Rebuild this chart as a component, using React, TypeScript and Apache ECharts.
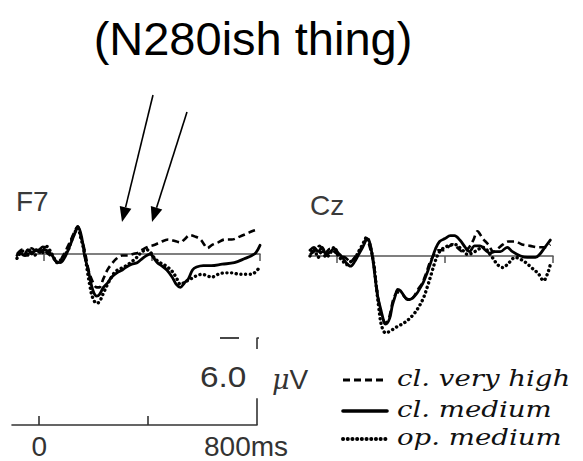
import React, { useEffect, useRef } from "react";
import * as echarts from "echarts";

type Pt = [number, number]; // [time in ms, amplitude in µV, negative up]

const TITLE = "(N280ish thing)";
const CONDITIONS = ["cl. very high", "cl. medium", "op. medium"];
const PANELS = ["F7", "Cz"];

// F7 waveforms
const F7_VERY_HIGH: Pt[] = [
  [-100, 0], [-80, -0.3], [-65, 0.1], [-45, -0.4], [-25, -0.1], [-5, -0.5], [10, -0.1], [30, 0.2],
  [50, 0.6], [65, 0.3], [85, -0.4], [105, -1.2], [120, -1.8], [125, -1.9], [135, -1.3], [150, -0.3],
  [165, 1.1], [180, 1.9], [195, 2.3], [205, 2.3], [220, 1.7], [235, 1.1], [250, 0.7], [270, 0.3],
  [290, 0.1], [310, 0.1], [330, 0], [350, -0.1], [365, -0.3], [385, -0.5], [405, -0.6], [430, -0.8],
  [460, -1.0], [485, -0.9], [505, -0.8], [520, -1.0], [540, -1.3], [560, -1.2], [580, -1.0], [595, -0.6],
  [605, -0.4], [620, -0.6], [645, -0.8], [670, -1.0], [695, -1.0], [725, -1.2], [750, -1.4], [775, -1.6],
  [795, -1.7],
];
const F7_MEDIUM: Pt[] = [
  [-100, 0.1], [-90, -0.1], [-75, 0.1], [-60, -0.3], [-45, 0], [-30, -0.3], [-15, -0.1], [0, -0.3],
  [15, -0.2], [30, 0.1], [45, 0.5], [60, 0.6], [75, 0.3], [90, -0.3], [105, -1.0], [120, -1.7],
  [125, -1.9], [135, -1.5], [145, -0.6], [150, 0.1], [165, 1.2], [175, 2.1], [185, 2.7], [195, 2.9],
  [205, 2.8], [220, 2.3], [235, 2.0], [250, 1.6], [270, 1.3], [290, 1.1], [305, 0.9], [325, 0.7],
  [345, 0.6], [365, 0.3], [380, 0.1], [395, 0], [400, 0.1], [420, 0.6], [435, 0.8], [455, 1.1],
  [475, 1.6], [490, 2.1], [505, 2.3], [520, 2.0], [535, 1.7], [550, 1.1], [565, 0.9], [590, 0.8],
  [620, 0.8], [660, 0.7], [705, 0.6], [745, 0.3], [770, 0.1], [785, -0.1], [800, -0.6],
];
const F7_OP_MEDIUM: Pt[] = [
  [-100, 0.3], [-80, -0.2], [-65, 0.2], [-50, -0.3], [-35, 0.1], [-20, -0.4], [-5, -0.1], [5, -0.6],
  [20, -0.3], [35, 0.2], [50, 0.6], [70, 0.2], [90, -0.3], [105, -1.1], [120, -1.7], [125, -1.8],
  [135, -1.2], [150, -0.1], [160, 1.1], [170, 2.2], [180, 3.0], [195, 3.4], [205, 3.3], [220, 2.7],
  [235, 2.1], [250, 1.6], [265, 1.2], [285, 1.0], [305, 0.8], [320, 0.6], [340, 0.3], [360, -0.1],
  [380, -0.3], [395, -0.1], [410, 0.3], [430, 0.6], [450, 0.8], [475, 1.2], [495, 1.8], [505, 2.1],
  [525, 1.9], [545, 1.7], [565, 1.5], [585, 1.4], [605, 1.5], [620, 1.6], [645, 1.4], [670, 1.3],
  [695, 1.3], [725, 1.4], [750, 1.4], [770, 1.4], [785, 1.2], [795, 1.0],
];

// Cz waveforms
const CZ_VERY_HIGH: Pt[] = [
  [-100, -0.1], [-80, -0.4], [-65, -0.7], [-45, -0.2], [-25, -0.5], [-10, -0.3], [10, 0], [30, 0.1],
  [50, 0.4], [65, 0.1], [85, -0.4], [100, -0.9], [110, -1.2], [120, -0.7], [135, 0.4], [145, 1.9],
  [155, 3.2], [165, 4.1], [180, 4.6], [190, 4.4], [200, 3.7], [210, 2.9], [225, 2.5], [240, 2.6],
  [255, 2.9], [270, 3.0], [285, 2.8], [300, 2.3], [315, 1.9], [330, 1.2], [345, 0.4], [360, -0.1],
  [375, -0.4], [395, -0.4], [410, -0.6], [430, -0.8], [450, -0.5], [465, -0.3], [485, -0.5], [505, -1.1],
  [520, -1.7], [540, -1.2], [560, -0.8], [580, -0.3], [595, -0.5], [615, -0.8], [635, -1.0], [660, -1.0],
  [685, -0.8], [715, -0.7], [745, -0.6], [770, -0.6], [790, -0.8],
];
const CZ_MEDIUM: Pt[] = [
  [-100, -0.4], [-85, -0.6], [-70, -0.3], [-55, -0.6], [-40, -0.1], [-25, -0.3], [-10, -0.5], [5, -0.2],
  [20, 0.1], [35, 0.5], [50, 0.7], [65, 0.4], [80, -0.1], [95, -0.6], [105, -1.0], [110, -1.2],
  [120, -1.0], [130, -0.1], [140, 1.3], [150, 2.7], [165, 3.9], [175, 4.6], [180, 4.7], [195, 4.3],
  [205, 3.4], [215, 2.8], [225, 2.3], [235, 2.4], [250, 2.8], [260, 3.0], [270, 3.0], [280, 2.9],
  [295, 2.6], [305, 2.3], [320, 1.8], [335, 1.1], [350, 0.3], [365, -0.5], [380, -1.0], [400, -1.2],
  [420, -1.4], [435, -1.4], [455, -1.1], [475, -0.6], [490, -0.3], [510, -0.7], [530, -0.7], [550, -0.4],
  [565, -0.2], [585, -0.3], [605, -0.3], [630, -0.6], [650, -0.3], [680, 0], [705, 0.1], [735, 0.1],
  [750, -0.1], [770, -0.6], [790, -1.1],
];
const CZ_OP_MEDIUM: Pt[] = [
  [-100, 0], [-85, -0.5], [-70, 0.1], [-55, -0.4], [-40, 0.1], [-25, -0.2], [-10, -0.6], [5, 0],
  [20, 0.3], [35, 0.6], [50, 0.4], [65, 0.2], [80, -0.3], [95, -0.8], [105, -1.2], [110, -1.3],
  [120, -0.9], [135, 0.4], [145, 2.0], [155, 3.6], [165, 4.8], [180, 5.3], [195, 5.2], [220, 4.9],
  [250, 4.6], [280, 4.1], [300, 3.6], [320, 2.9], [335, 2.1], [350, 1.2], [365, 0.3], [380, -0.3],
  [400, -0.6], [435, -0.8], [465, -0.4], [485, -0.1], [510, -0.3], [540, -0.6], [575, 0.1], [595, 0.6],
  [615, 0.8], [635, 0.5], [660, 0.1], [695, 0.4], [720, 0.8], [745, 1.2], [765, 1.7], [780, 1.2],
  [790, 0.6],
];

const PANEL_DATA: Pt[][][] = [
  [F7_VERY_HIGH, F7_MEDIUM, F7_OP_MEDIUM],
  [CZ_VERY_HIGH, CZ_MEDIUM, CZ_OP_MEDIUM],
];

// Calibration: time axis and amplitude bar
const EPOCH = [-100, 800];
const PANEL_TICKS = [0, 400, 800];
const SCALE_TICKS = [0, 400];
const SCALE_LABELS = [0, 800];
const SCALE_UV = 6.0;
const BAR_LOWER: Pt[] = [[800, 0], [800, -1.85]];
const BAR_UPPER: Pt[] = [[800, -5.25], [800, -6], [837, -6]];

const SANS = "'Liberation Sans', Arial, Helvetica, sans-serif";
const SERIF = "'DejaVu Serif', serif";
const INK = "#000";
const GREY = "#333";

const LINE_STYLES = [
  { type: [7, 4], width: 2.6, cap: "butt" },
  { type: "solid", width: 2.8, cap: "round" },
  { type: [0.1, 4.6], width: 3.4, cap: "round" },
];

// legend block: swatch x-range and row centres
const LEGEND_X = 343;
const LEGEND_W = 44;
const LEGEND_ROWS = [380, 411, 439];

function arrow(x1: number, y1: number, x2: number, y2: number) {
  const dx = x2 - x1;
  const dy = y2 - y1;
  const len = Math.hypot(dx, dy);
  const ux = dx / len;
  const uy = dy / len;
  const head = 15;
  const half = 6;
  const bx = x2 - ux * head;
  const by = y2 - uy * head;
  return [
    {
      type: "line",
      shape: { x1, y1, x2: bx, y2: by },
      style: { stroke: INK, lineWidth: 1.6 },
    },
    {
      type: "polygon",
      shape: {
        points: [
          [x2, y2],
          [bx - uy * half, by + ux * half],
          [bx + uy * half, by - ux * half],
        ],
      },
      style: { fill: INK },
    },
  ];
}

function legendItems() {
  const out: any[] = [];
  CONDITIONS.forEach((name, i) => {
    const ls = LINE_STYLES[i];
    out.push({
      type: "line",
      shape: { x1: LEGEND_X, y1: LEGEND_ROWS[i], x2: LEGEND_X + LEGEND_W, y2: LEGEND_ROWS[i] },
      style: {
        stroke: INK,
        lineWidth: i === 1 ? 3.6 : ls.width + 0.6,
        lineDash: Array.isArray(ls.type) ? ls.type : null,
        lineCap: ls.cap,
      },
    });
    out.push({
      type: "text",
      x: LEGEND_X + LEGEND_W + 10,
      y: LEGEND_ROWS[i] - 2,
      scaleX: 1.2,
      style: {
        text: name,
        fill: "#111",
        fontFamily: SERIF,
        fontStyle: "italic",
        fontSize: 23,
        align: "left",
        verticalAlign: "middle",
      },
    });
  });
  return out;
}

export default function App() {
  const ref = useRef<HTMLDivElement>(null);

  useEffect(() => {
    if (!ref.current) return;
    const chart = echarts.init(ref.current, null, { renderer: "svg" });

    const panelGrids = [
      { left: 17, top: 181.5, width: 243, height: 145 },
      { left: 310, top: 183.5, width: 243, height: 145 },
    ];

    const panelX = panelGrids.map((_, i) => ({
      type: "value",
      gridIndex: i,
      min: EPOCH[0],
      max: EPOCH[1],
      axisLine: { onZero: true, lineStyle: { color: "#555", width: 1.5 } },
      axisTick: { show: true, customValues: PANEL_TICKS, length: 7, lineStyle: { color: "#555", width: 1.5 } },
      axisLabel: { show: false },
      splitLine: { show: false },
    }));
    const panelY = panelGrids.map((_, i) => ({
      type: "value",
      gridIndex: i,
      min: -5,
      max: 5,
      inverse: true,
      show: false,
      splitLine: { show: false },
    }));

    const waveSeries: any[] = [];
    PANEL_DATA.forEach((traces, p) => {
      traces.forEach((data, c) => {
        waveSeries.push({
          type: "line",
          name: CONDITIONS[c],
          xAxisIndex: p,
          yAxisIndex: p,
          data,
          symbol: "none",
          smooth: 0.35,
          clip: false,
          z: 3 + c,
          lineStyle: { color: INK, ...LINE_STYLES[c] },
          itemStyle: { color: INK },
        });
      });
    });

    const barStyle = { color: GREY, width: 1.6 };

    chart.setOption({
      animation: false,
      backgroundColor: "#fff",
      grid: [...panelGrids, { left: 12, top: 338, width: 245, height: 87 }],
      xAxis: [
        ...panelX,
        {
          type: "value",
          gridIndex: 2,
          min: EPOCH[0],
          max: EPOCH[1],
          axisLine: { onZero: true, lineStyle: { color: GREY, width: 1.6 } },
          axisTick: { show: true, inside: true, customValues: SCALE_TICKS, length: 9, lineStyle: { color: GREY, width: 1.6 } },
          axisLabel: {
            show: true,
            customValues: SCALE_LABELS,
            margin: 7,
            color: GREY,
            fontFamily: SANS,
            fontSize: 28,
            formatter: (v: number) => (v === EPOCH[1] ? `{t|${v}ms}{pad|}` : `{t|${v}}`),
            rich: {
              t: { fontFamily: SANS, fontSize: 28, color: GREY },
              pad: { width: 22 },
            },
          },
          splitLine: { show: false },
        },
      ],
      yAxis: [
        ...panelY,
        { type: "value", gridIndex: 2, min: -SCALE_UV, max: 0, inverse: true, show: false, splitLine: { show: false } },
      ],
      series: [
        ...waveSeries,
        {
          type: "line",
          name: "bar-lower",
          xAxisIndex: 2,
          yAxisIndex: 2,
          data: BAR_LOWER,
          symbol: "none",
          clip: false,
          lineStyle: barStyle,
        },
        {
          type: "line",
          name: "bar-upper",
          xAxisIndex: 2,
          yAxisIndex: 2,
          data: BAR_UPPER,
          symbol: "none",
          clip: false,
          lineStyle: barStyle,
        },
      ],
      graphic: [
        {
          type: "text",
          x: 253,
          y: 38,
          style: { text: TITLE, fill: INK, fontFamily: SANS, fontSize: 47, align: "center", verticalAlign: "middle" },
        },
        {
          type: "text",
          x: 16,
          y: 201,
          style: { text: PANELS[0], fill: "#3a3a3a", fontFamily: SANS, fontSize: 28, align: "left", verticalAlign: "middle" },
        },
        {
          type: "text",
          x: 310,
          y: 205,
          style: { text: PANELS[1], fill: "#3a3a3a", fontFamily: SANS, fontSize: 28, align: "left", verticalAlign: "middle" },
        },
        {
          type: "text",
          x: 200,
          y: 377,
          scaleX: 1.15,
          style: { text: SCALE_UV.toFixed(1), fill: GREY, fontFamily: SANS, fontSize: 29, align: "left", verticalAlign: "middle" },
        },
        {
          type: "text",
          x: 272,
          y: 379,
          style: {
            text: "{m|\u03bc}V",
            fill: GREY,
            fontFamily: SANS,
            fontSize: 28,
            align: "left",
            verticalAlign: "middle",
            rich: { m: { fontFamily: SERIF, fontStyle: "italic", fontSize: 27, fill: GREY } },
          },
        },
        {
          type: "line",
          shape: { x1: 220, y1: 338, x2: 239, y2: 338 },
          style: { stroke: GREY, lineWidth: 1.8 },
        },
        ...arrow(153, 95, 122, 222),
        ...arrow(187, 112, 152, 222),
        ...legendItems(),
      ],
    });

    return () => chart.dispose();
  }, []);

  return <div ref={ref} style={{ position: "fixed", left: 0, top: 0, width: 583, height: 461 }} />;
}
